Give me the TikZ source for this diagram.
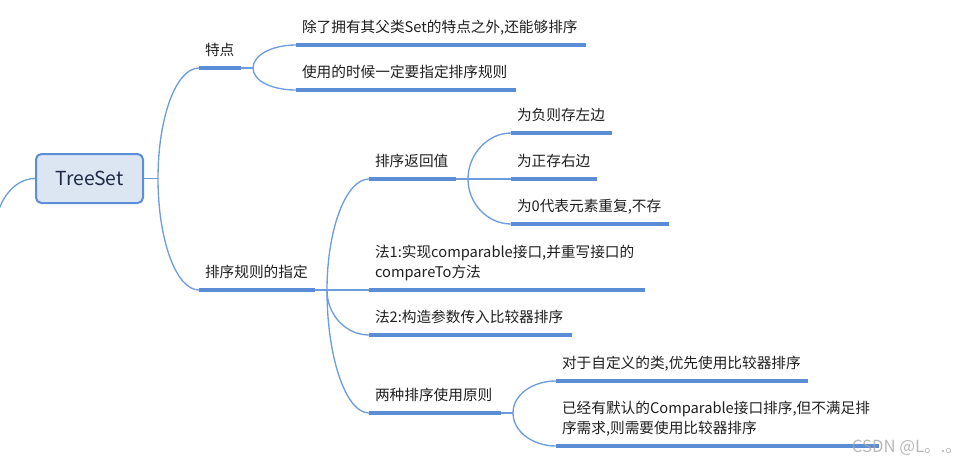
\documentclass[tikz,border=0pt]{standalone}
\usepackage{fontspec}
\newfontfamily\cjk{Noto Sans CJK SC}
\usetikzlibrary{calc}
\definecolor{boxfill}{HTML}{DCE6F2}
\definecolor{boxline}{HTML}{5B8ED6}
\definecolor{roottext}{HTML}{1F2A44}
\definecolor{ulblue}{HTML}{5A8DD6}
\definecolor{lnblue}{HTML}{6E9DDF}
\tikzset{
  root/.style  = {rectangle, draw=boxline, line width=1.5pt, fill=boxfill,
    rounded corners=4pt, minimum width=80.25pt, minimum height=36.75pt,
    font=\cjk\fontsize{14.5}{16}\selectfont, text=roottext},
  topic/.style = {anchor=south west, inner xsep=4.5pt, inner ysep=9.3pt, outer sep=0pt,
    align=left, text depth=0pt, font=\cjk\fontsize{11}{15.4}\selectfont, text=black!88},
  twoline/.style = {text depth=15.4pt},
  uline/.style = {line width=2.4pt, draw=ulblue},
  conn/.style  = {line width=1pt, draw=lnblue},
  mark text/.style = {font=\cjk\fontsize{12.5}{14}\selectfont, text=black!35, opacity=0.8},
}
\begin{document}
\begin{tikzpicture}[x=0.75pt, y=-0.75pt]
  \clip (0,0) rectangle (978,465);

  % root
  \node[root] (ts) at (89.5,178.5) {TreeSet};
  \coordinate (up) at (-6,237);
  \coordinate (ts-b) at ([xshift=10.5pt]ts.east);

  % 特点
  \node[topic, text width=22.5pt] (td) at (199,68) {特点};
  \node[topic, text width=208.5pt] (td1) at (296,45) {除了拥有其父类Set的特点之外,还能够排序};
  \node[topic, text width=156pt] (td2) at (296,90) {使用的时候一定要指定排序规则};

  % 排序规则的指定
  \node[topic, text width=78pt] (gz) at (199,290) {排序规则的指定};
  \node[topic, text width=56.25pt] (fh) at (369,179) {排序返回值};
  \node[topic, twoline, text width=198pt] (f1) at (369,290) {法1:实现comparable接口,并重写接口的\\compareTo方法};
  \node[topic, text width=143.25pt] (f2) at (369,335) {法2:构造参数传入比较器排序};
  \node[topic, text width=90pt] (yz) at (369,413) {两种排序使用原则};

  % 返回值
  \node[topic, text width=66.75pt] (fh1) at (511,133) {为负则存左边};
  \node[topic, text width=55.5pt] (fh2) at (511,179) {为正存右边};
  \node[topic, text width=109.5pt] (fh3) at (511,224) {为0代表元素重复,不存};

  % 使用原则
  \node[topic, text width=180pt] (yz1) at (556,381) {对于自定义的类,优先使用比较器排序};
  \node[topic, twoline, text width=233.25pt] (yz2) at (556,446) {已经有默认的Comparable接口排序,但不满足排\\序需求,则需要使用比较器排序};

  % branch points
  \coordinate (td-b) at ([xshift=9pt]td.south east);
  \coordinate (gz-b) at ([xshift=9pt]gz.south east);
  \coordinate (fh-b) at ([xshift=9pt]fh.south east);
  \coordinate (yz-b) at ([xshift=9pt]yz.south east);

  % connectors
  \draw[conn] (up) .. controls +(0,-32) and +(-23,0) .. (ts.west);
  \draw[conn] (ts.east) -- (ts-b);
  \draw[conn] (ts-b) .. controls +(0,-61) and +(-23,0) .. (td.south west);
  \draw[conn] (ts-b) .. controls +(0,61) and +(-23,0) .. (gz.south west);

  \draw[conn] (td.south east) -- (td-b);
  \draw[conn] (td-b) .. controls +(0,-13) and +(-24,0) .. (td1.south west);
  \draw[conn] (td-b) .. controls +(0,13) and +(-24,0) .. (td2.south west);

  \draw[conn] (gz.south east) -- (gz-b);
  \draw[conn] (gz-b) .. controls +(0,-61) and +(-23,0) .. (fh.south west);
  \draw[conn] (gz-b) -- (f1.south west);
  \draw[conn] (gz-b) .. controls +(0,25) and +(-23,0) .. (f2.south west);
  \draw[conn] (gz-b) .. controls +(0,68) and +(-23,0) .. (yz.south west);

  \draw[conn] (fh.south east) -- (fh-b);
  \draw[conn] (fh-b) .. controls +(0,-25) and +(-23,0) .. (fh1.south west);
  \draw[conn] (fh-b) -- (fh2.south west);
  \draw[conn] (fh-b) .. controls +(0,25) and +(-23,0) .. (fh3.south west);

  \draw[conn] (yz.south east) -- (yz-b);
  \draw[conn] (yz-b) .. controls +(0,-18) and +(-24,0) .. (yz1.south west);
  \draw[conn] (yz-b) .. controls +(0,18) and +(-24,0) .. (yz2.south west);

  % underlines
  \foreach \n in {td,td1,td2,gz,fh,fh1,fh2,fh3,f1,f2,yz,yz1,yz2}
    \draw[uline] (\n.south west) -- (\n.south east);

  \node[mark text] (wm) at (907,448) {CSDN @L。.。};
\end{tikzpicture}
\end{document}
